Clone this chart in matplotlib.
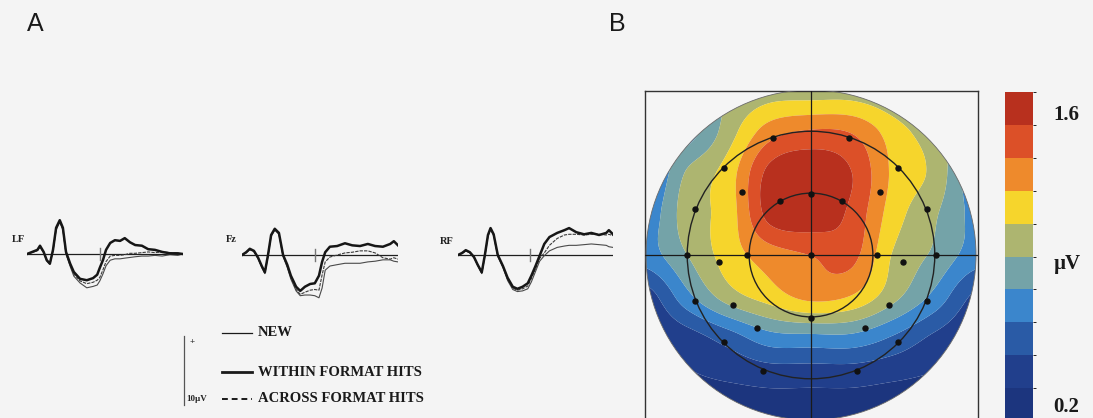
import numpy as np
import matplotlib
matplotlib.use("Agg")
import matplotlib.pyplot as plt
from matplotlib.colors import ListedColormap, BoundaryNorm
from matplotlib.cm import ScalarMappable
from matplotlib.patches import Circle

# ---------------------------------------------------------------- ERP data
# time points (ms) and amplitudes (µV) for each electrode and condition
LF_T = [-100, -50, 0, 25, 60, 90, 120, 150, 180, 215, 245, 275, 315, 350, 410, 475, 535,
        575, 600, 630, 660, 700, 745, 795, 840, 890, 940, 1005, 1065, 1130, 1200, 1275, 1350, 1400]
LF_WITHIN = [0, 0.3, 0.6, 1.2, 0.3, -0.9, -1.4, 0.6, 3.8, 4.9, 3.8, 0.3, -1.4, -2.6, -3.6, -3.8, -3.5,
             -3.0, -2.0, -0.9, 0.6, 1.6, 2.0, 1.9, 2.3, 1.7, 1.3, 1.2, 0.7, 0.6, 0.3, 0.1, 0.1, 0.0]
LF_ACROSS = [0, 0.3, 0.5, 1.1, 0.3, -0.9, -1.4, 0.5, 3.6, 4.7, 3.6, 0.1, -1.6, -2.9, -3.9, -4.3, -4.1,
             -3.8, -3.4, -2.3, -1.1, -0.3, -0.2, -0.2, -0.1, 0.1, 0.1, 0.2, 0.3, 0.2, 0.3, 0.2, 0.1, 0.0]
LF_NEW = [0, 0.2, 0.5, 1.0, 0.2, -1.0, -1.5, 0.4, 3.5, 4.6, 3.5, 0.0, -1.8, -3.2, -4.2, -4.9, -4.7,
          -4.5, -3.9, -2.9, -1.7, -0.9, -0.7, -0.7, -0.6, -0.5, -0.4, -0.3, -0.3, -0.2, -0.3, -0.1, -0.2, 0.0]

FZ_T = [-100, -60, -25, 15, 55, 90, 120, 150, 180, 215, 255, 295, 335, 370, 420, 460, 505,
        555, 600, 640, 670, 700, 745, 815, 890, 960, 1035, 1110, 1180, 1255, 1325, 1360, 1400]
FZ_WITHIN = [0, 0.4, 0.9, 0.6, -0.4, -1.6, -2.5, 0.0, 2.9, 3.8, 3.2, 0.0, -1.4, -3.0, -4.6, -5.2, -4.6,
             -4.2, -4.1, -3.0, -1.0, 0.4, 1.2, 1.3, 1.7, 1.4, 1.3, 1.6, 1.3, 1.2, 1.6, 2.0, 1.4]
FZ_ACROSS = [0, 0.4, 0.8, 0.5, -0.5, -1.7, -2.6, -0.1, 2.8, 3.7, 3.1, -0.1, -1.6, -3.3, -5.0, -5.7, -5.4,
             -5.1, -5.0, -5.1, -2.9, -1.0, -0.3, 0.0, 0.3, 0.4, 0.6, 0.6, 0.3, -0.4, -0.6, -0.4, -0.6]
FZ_NEW = [0, 0.3, 0.8, 0.5, -0.5, -1.8, -2.7, -0.2, 2.7, 3.6, 3.0, -0.2, -1.8, -3.5, -5.2, -5.9, -5.8,
          -5.8, -5.9, -6.2, -4.8, -2.2, -1.6, -1.4, -1.2, -1.2, -1.2, -1.0, -0.9, -0.7, -0.7, -0.9, -1.0]

RF_T = [-100, -60, -25, 15, 55, 90, 130, 160, 190, 215, 245, 285, 335, 380, 430, 475, 525,
        575, 610, 650, 690, 735, 785, 860, 930, 975, 1045, 1120, 1190, 1265, 1335, 1360, 1400]
RF_WITHIN = [0, 0.3, 0.7, 0.4, -0.3, -1.4, -2.5, 0.0, 2.9, 3.9, 3.0, 0.0, -1.6, -3.3, -4.6, -4.9, -4.6,
             -4.1, -3.0, -1.6, -0.1, 1.6, 2.6, 3.2, 3.6, 3.9, 3.3, 3.0, 3.2, 2.9, 3.2, 3.6, 3.0]
RF_ACROSS = [0, 0.3, 0.6, 0.4, -0.3, -1.4, -2.6, -0.1, 2.8, 3.8, 2.9, -0.1, -1.7, -3.5, -4.8, -5.1, -4.9,
             -4.5, -3.4, -2.0, -0.5, 0.3, 1.4, 2.4, 2.9, 3.0, 3.0, 2.9, 3.0, 3.0, 2.9, 3.0, 2.8]
RF_NEW = [0, 0.2, 0.6, 0.3, -0.4, -1.5, -2.7, -0.2, 2.7, 3.7, 2.8, -0.2, -1.8, -3.7, -5.0, -5.3, -5.2,
          -4.9, -3.9, -2.4, -0.9, -0.1, 0.6, 1.1, 1.3, 1.4, 1.4, 1.5, 1.6, 1.5, 1.4, 1.2, 1.1]

CHANNELS = ["LF", "Fz", "RF"]
CONDITIONS = ["NEW", "WITHIN FORMAT HITS", "ACROSS FORMAT HITS"]
SCALE_UV = 10          # calibration bar, µV
ONSET_TICK_MS = 600

# ------------------------------------------------------- topography data
# scalp map (µV) sampled on a 9 x 9 grid, rows from front (top) to back
MAP_U = [-1.0, -0.75, -0.5, -0.25, 0.0, 0.25, 0.5, 0.75, 1.0]
MAP_V = [1.0, 0.75, 0.5, 0.25, 0.0, -0.25, -0.5, -0.75, -1.0]
MAP_UV = [
    [0.67, 0.74, 0.90, 0.98, 0.98, 0.98, 0.90, 0.74, 0.67],
    [0.59, 0.67, 0.98, 1.29, 1.38, 1.35, 1.13, 0.95, 0.74],
    [0.54, 0.92, 1.13, 1.57, 1.65, 1.52, 1.18, 1.01, 0.64],
    [0.64, 0.98, 1.13, 1.58, 1.63, 1.48, 1.13, 0.92, 0.70],
    [0.67, 0.90, 1.13, 1.29, 1.37, 1.41, 1.04, 0.87, 0.67],
    [0.36, 0.70, 0.98, 1.13, 1.26, 1.20, 0.95, 0.70, 0.40],
    [0.28, 0.36, 0.51, 0.68, 0.70, 0.70, 0.57, 0.40, 0.29],
    [0.25, 0.26, 0.29, 0.32, 0.32, 0.32, 0.29, 0.26, 0.25],
    [0.20, 0.20, 0.20, 0.22, 0.22, 0.22, 0.20, 0.20, 0.20],
]
CBAR_MIN, CBAR_MAX, N_BANDS = 0.2, 1.6, 10
BAND_COLORS = ["#1c357e", "#213f8c", "#2a5ba6", "#3b86cc", "#74a3a8",
               "#adb570", "#f6d52c", "#ee8a2c", "#dc5028", "#b8301e"]

# electrode sites (unit head radius)
ELEC_U = [-0.23, 0.23, -0.53, 0.53, -0.42, 0.0, 0.42, -0.19, 0.19, -0.70, 0.70, -0.75, -0.39, 0.0,
          0.40, 0.76, -0.56, 0.56, -0.70, -0.47, 0.0, 0.47, 0.70, -0.33, 0.33, -0.53, 0.53, -0.29, 0.28]
ELEC_V = [0.71, 0.71, 0.53, 0.53, 0.38, 0.37, 0.38, 0.33, 0.33, 0.28, 0.28, 0.0, 0.0, 0.0,
          0.0, 0.0, -0.04, -0.04, -0.28, -0.30, -0.38, -0.30, -0.28, -0.44, -0.44, -0.53, -0.53, -0.70, -0.70]
RING_RADII = [0.375, 0.75]

# ------------------------------------------------------------------ figure
W, H = 1093, 418
BG = "#f4f4f4"
fig = plt.figure(figsize=(W / 100, H / 100), dpi=100, facecolor=BG)
SERIF = ["Liberation Serif", "DejaVu Serif"]
SANS = ["Liberation Sans", "DejaVu Sans"]


def px_axes(x0, y0, x1, y1, **kw):
    return fig.add_axes([x0 / W, 1 - y1 / H, (x1 - x0) / W, (y1 - y0) / H], **kw)


# ---------------------------------------------------------------- panel A
PX_PER_UV = 6.9
YLIM = 8
wave_sets = [
    (LF_T, LF_NEW, LF_WITHIN, LF_ACROSS, 27, 183, 254),
    (FZ_T, FZ_NEW, FZ_WITHIN, FZ_ACROSS, 242, 398, 255),
    (RF_T, RF_NEW, RF_WITHIN, RF_ACROSS, 458, 613, 255),
]
wave_axes = []
for t, new, within, across, x0, x1, base in wave_sets:
    ax = px_axes(x0, base - YLIM * PX_PER_UV, x1, base + YLIM * PX_PER_UV)
    ax.set_xlim(t[0], t[-1])
    ax.set_ylim(-YLIM, YLIM)
    ax.axis("off")
    ax.axhline(0, color="#1e1e1e", lw=0.9)
    ax.plot([ONSET_TICK_MS, ONSET_TICK_MS], [-0.8, 0.8], color="#777777", lw=1.0)
    ax.plot(t, new, color="#4a4a4a", lw=0.8)
    ax.plot(t, across, color="#3a3a3a", lw=0.8, ls=(0, (3, 1)))
    ax.plot(t, within, color="#161616", lw=1.8)
    wave_axes.append(ax)

# calibration bar drawn in the LF axes' µV units
lf = wave_axes[0]
bar_t = 1414
bar_top = -11.9
lf.plot([bar_t, bar_t], [bar_top, bar_top - SCALE_UV], color="#555555", lw=0.9, clip_on=False)
lf.text(bar_t + 45, bar_top - 0.9, "+", fontsize=6.5, family=SERIF, weight="bold",
        ha="left", va="center", color="#333333", clip_on=False)
lf.text(bar_t + 15, bar_top - SCALE_UV + 0.9, f"{SCALE_UV}µV", fontsize=6.5, family=SERIF,
        weight="bold", ha="left", va="center", color="#222222", clip_on=False)

# overlay for labels and legend (pixel coordinates)
ov = fig.add_axes([0, 0, 1, 1], zorder=5)
ov.set_xlim(0, W)
ov.set_ylim(H, 0)
ov.axis("off")
ov.patch.set_alpha(0)

ov.text(35, 24, "A", fontsize=18, family=SANS, ha="center", va="center", color="#1a1a1a")
ov.text(617, 24, "B", fontsize=18, family=SANS, ha="center", va="center", color="#1a1a1a")

for name, (x, y) in zip(CHANNELS, [(18, 239), (231, 240), (447, 241)]):
    ov.text(x, y, name, fontsize=7.5, family=SERIF, weight="bold", ha="center", va="center",
            color="#222222")

legend_rows = [(333, dict(lw=0.9, ls="-")), (372, dict(lw=2.0, ls="-")),
               (399, dict(lw=1.4, ls=(0, (3, 2))))]
for label, (y, style) in zip(CONDITIONS, legend_rows):
    ov.plot([222, 252], [y, y], color="#1a1a1a", **style)
    ov.text(258, y, label, fontsize=10.5, family=SERIF, weight="bold", ha="left", va="center",
            color="#1a1a1a")

# ---------------------------------------------------------------- panel B
def catmull_rom(a, n):
    """Smoothly resample a 2-D array along axis 0 to n rows."""
    m = a.shape[0]
    s = np.linspace(0, m - 1, n)
    i = np.clip(np.floor(s).astype(int), 0, m - 2)
    t = (s - i)[:, None]
    p = np.concatenate([a[:1], a, a[-1:], a[-1:]], axis=0)
    p0, p1, p2, p3 = p[i], p[i + 1], p[i + 2], p[i + 3]
    return 0.5 * (2 * p1 + (p2 - p0) * t + (2 * p0 - 5 * p1 + 4 * p2 - p3) * t ** 2
                  + (3 * p1 - p0 - 3 * p2 + p3) * t ** 3)


grid = np.array(MAP_UV)
nfine = 241
fine = catmull_rom(catmull_rom(grid, nfine).T, nfine).T
uu = np.linspace(MAP_U[0], MAP_U[-1], nfine)
vv = np.linspace(MAP_V[0], MAP_V[-1], nfine)
U, V = np.meshgrid(uu, vv)

step = (CBAR_MAX - CBAR_MIN) / (N_BANDS - 1)
bounds = CBAR_MIN - step / 2 + step * np.arange(N_BANDS + 1)
cmap = ListedColormap(BAND_COLORS)
norm = BoundaryNorm(bounds, cmap.N)
fine = np.clip(fine, bounds[0] + 1e-6, bounds[-1] - 1e-6)

mx = px_axes(645, 91, 978, 423)
mx.set_xlim(-1.006, 1.012)
mx.set_ylim(-1.018, 0.994)
mx.set_facecolor("#f5f5f5")
mx.set_xticks([])
mx.set_yticks([])
for sp in mx.spines.values():
    sp.set_color("#333333")
    sp.set_linewidth(1.0)

head = Circle((0, 0), 1.0, transform=mx.transData, fc="none", ec="none")
mx.add_patch(head)
cs = mx.contourf(U, V, fine, levels=bounds, cmap=cmap, norm=norm, antialiased=True)
cs.set_clip_path(head)
mx.add_patch(Circle((0, 0), 1.0, fc="none", ec="#6a6a6a", lw=0.6, zorder=3))
for r in RING_RADII:
    mx.add_patch(Circle((0, 0), r, fc="none", ec="#222222", lw=1.0, zorder=4))
mx.axhline(0, color="#1a1a1a", lw=0.9, zorder=4)
mx.axvline(0, color="#1a1a1a", lw=0.9, zorder=4)
mx.plot(ELEC_U, ELEC_V, "o", ms=3.6, color="#111111", zorder=5)

# colour scale
cax = px_axes(1005, 92, 1033, 421)
cb = fig.colorbar(ScalarMappable(norm=norm, cmap=cmap), cax=cax, ticks=[])
cb.outline.set_visible(False)
cax.set_ylim(bounds[0], bounds[-1])
for val, lab in [(CBAR_MAX, f"{CBAR_MAX:.1f}"), (CBAR_MIN, f"{CBAR_MIN:.1f}")]:
    cax.text(1.72, val - 0.03 if val == CBAR_MAX else val - 0.01, lab, transform=cax.get_yaxis_transform(),
             fontsize=15, family=SERIF, weight="bold", ha="left", va="center", color="#1a1a1a")
cax.text(1.72, 0.478, "µV", transform=cax.transAxes, fontsize=15, family=SERIF, weight="bold",
         ha="left", va="center", color="#1a1a1a")

fig.savefig("out.png", dpi=100, facecolor=BG)
